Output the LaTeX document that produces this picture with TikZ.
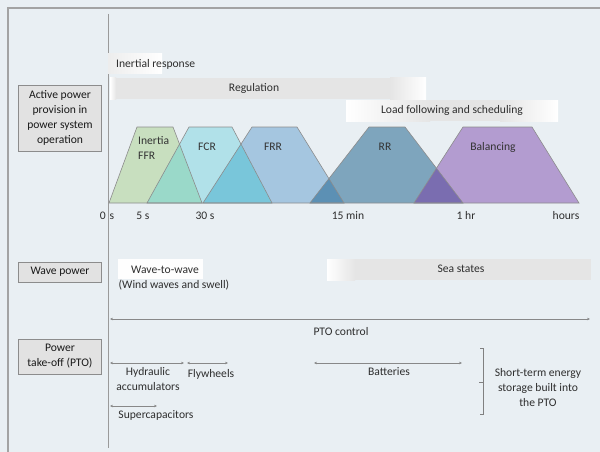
\documentclass[tikz,border=0pt]{standalone}
\usepackage{fontspec}
\setmainfont{Carlito}
\usetikzlibrary{arrows.meta}
\definecolor{bg}{HTML}{E9EFF3}
\definecolor{frame}{HTML}{A3A3A3}
\definecolor{axis}{HTML}{9A9A9A}
\definecolor{cffr}{HTML}{C8DFBF}
\definecolor{cfcr}{HTML}{B1E1E9}
\definecolor{cfrr}{HTML}{A5C6E0}
\definecolor{crr}{HTML}{7EA5BD}
\definecolor{cbal}{HTML}{B39CD0}
\definecolor{ovA}{HTML}{9AD9C9}
\definecolor{ovB}{HTML}{79C6DA}
\definecolor{ovC}{HTML}{5C90B4}
\definecolor{ovD}{HTML}{7A6DB0}
\definecolor{barg}{HTML}{E5E5E5}
\definecolor{boxfill}{HTML}{E2E2E2}
\definecolor{boxdraw}{HTML}{8C8C8C}
\definecolor{txt}{HTML}{2E2E2E}
\definecolor{arr}{HTML}{888888}
\tikzset{
  lbl/.style={inner sep=0pt, text=txt, font=\fontsize{11.6}{15}\selectfont, align=center},
  catbox/.style={draw=boxdraw, fill=boxfill, line width=0.9pt, inner sep=0pt, text=black!90, font=\fontsize{11.6}{15}\selectfont, align=center},
  trapline/.style={draw=black!45, line width=0.6pt},
  span/.style={draw=arr, line width=0.7pt, {Stealth[length=3pt,width=2.6pt]}-{Stealth[length=3pt,width=2.6pt]}},
}
\begin{document}
\begin{tikzpicture}[x=1pt,y=-1pt]
\useasboundingbox (0,0) rectangle (600,452);
\fill[bg] (0,0) rectangle (600,452);
% frame
\draw[frame, line width=1.1pt] (8,452) -- (8,8) -- (600,8);
% axis
\draw[axis, line width=1pt] (108,14) -- (108,448);

% bars
\fill[white!96!barg] (108,54) rectangle (162,74);
\shade[left color=barg!70!white, right color=white] (108,54) rectangle (162,74);
\node[lbl, anchor=west] (inr) at (116,64) {Inertial response};

\fill[barg] (110,78) rectangle (426,99);
\shade[left color=white, right color=barg] (110,78) rectangle (116,99);
\shade[left color=barg, right color=white] (390,78) rectangle (426,99);
\node[lbl] (reg) at (254,88) {Regulation};

\fill[barg] (346,100) rectangle (558,121);
\shade[left color=white, right color=barg] (346,100) rectangle (430,121);
\shade[left color=barg, right color=white] (500,100) rectangle (558,121);
\node[lbl] (lfs) at (452,110) {Load following and scheduling};

% trapezoid corners
\coordinate (a1) at (109,203); \coordinate (a2) at (137,127); \coordinate (a3) at (173,127); \coordinate (a4) at (202,203);
\coordinate (b1) at (147,203); \coordinate (b2) at (189,127); \coordinate (b3) at (232,127); \coordinate (b4) at (272,203);
\coordinate (c1) at (203,203); \coordinate (c2) at (252,127); \coordinate (c3) at (297,127); \coordinate (c4) at (344,203);
\coordinate (d1) at (310,203); \coordinate (d2) at (369,127); \coordinate (d3) at (405,127); \coordinate (d4) at (463,203);
\coordinate (e1) at (414,203); \coordinate (e2) at (463,127); \coordinate (e3) at (532,127); \coordinate (e4) at (579,203);

\fill[cffr] (a1)--(a2)--(a3)--(a4)--cycle;
\fill[cfcr] (b1)--(b2)--(b3)--(b4)--cycle;
\fill[cfrr] (c1)--(c2)--(c3)--(c4)--cycle;
\fill[crr] (d1)--(d2)--(d3)--(d4)--cycle;
\fill[cbal] (e1)--(e2)--(e3)--(e4)--cycle;
\begin{scope}\clip (a1)--(a2)--(a3)--(a4)--cycle; \fill[ovA] (b1)--(b2)--(b3)--(b4)--cycle;\end{scope}
\begin{scope}\clip (b1)--(b2)--(b3)--(b4)--cycle; \fill[ovB] (c1)--(c2)--(c3)--(c4)--cycle;\end{scope}
\begin{scope}\clip (c1)--(c2)--(c3)--(c4)--cycle; \fill[ovC] (d1)--(d2)--(d3)--(d4)--cycle;\end{scope}
\begin{scope}\clip (d1)--(d2)--(d3)--(d4)--cycle; \fill[ovD] (e1)--(e2)--(e3)--(e4)--cycle;\end{scope}
\draw[trapline] (a1)--(a2)--(a3)--(a4)--cycle;
\draw[trapline] (b1)--(b2)--(b3)--(b4)--cycle;
\draw[trapline] (c1)--(c2)--(c3)--(c4)--cycle;
\draw[trapline] (d1)--(d2)--(d3)--(d4)--cycle;
\draw[trapline] (e1)--(e2)--(e3)--(e4)--cycle;

\node[lbl, anchor=west, align=left, text=black!80] (ffr) at (138,148) {Inertia\\FFR};
\node[lbl, text=black!80] (fcr) at (207,147) {FCR};
\node[lbl, text=black!80] (frr) at (273,147) {FRR};
\node[lbl, text=black!80] (rr) at (385,147) {RR};
\node[lbl, text=black!80] (bal) at (493,147) {Balancing};

% ticks
\node[lbl] (t0) at (107,216) {0\,\,s};
\node[lbl] (t5) at (143,216) {5 s};
\node[lbl] (t30) at (205,216) {30 s};
\node[lbl] (t15) at (348,216) {15 min};
\node[lbl] (t1h) at (466,215) {1 hr};
\node[lbl] (th) at (566,216) {hours};

% left category boxes
\node[catbox, minimum width=83pt, minimum height=66pt] (cap) at (60,118) {Active power\\provision in\\power system\\operation};
\node[catbox, minimum width=83pt, minimum height=20pt] (cwp) at (60,272) {Wave power};
\node[catbox, minimum width=83pt, minimum height=35pt] (cpto) at (60,356.5) {Power\\take-off (PTO)};

% wave power
\fill[white!97!barg] (118,259) rectangle (203,279);
\node[lbl] (w2w) at (165,270) {Wave-to-wave};
\node[lbl] (wws) at (174,285) {(Wind waves and swell)};
\fill[barg] (327,259) rectangle (591,280);
\shade[left color=white, right color=barg] (327,259) rectangle (355,280);
\node[lbl] (sea) at (461,269) {Sea states};

% PTO
\coordinate (p1) at (110,319); \coordinate (p2) at (590,319);
\draw[span] (p1) -- (p2);
\node[lbl] (ptoc) at (341,332) {PTO control};

\coordinate (h1) at (110,363); \coordinate (h2) at (184,363);
\draw[span] (h1) -- (h2);
\node[lbl] (hyd) at (148,379) {Hydraulic\\accumulators};

\coordinate (f1) at (187,363); \coordinate (f2) at (228,363);
\draw[span] (f1) -- (f2);
\node[lbl] (fly) at (211,374) {Flywheels};

\coordinate (s1) at (110,406); \coordinate (s2) at (157,406);
\draw[span] (s1) -- (s2);
\node[lbl] (sup) at (156,415) {Supercapacitors};

\coordinate (bt1) at (314,363); \coordinate (bt2) at (462,363);
\draw[span] (bt1) -- (bt2);
\node[lbl] (bat) at (389,372) {Batteries};

\coordinate (k1) at (480,348); \coordinate (k2) at (483,348); \coordinate (k3) at (483,414); \coordinate (k4) at (480,414);
\coordinate (km) at (483,382); \coordinate (kt) at (479,382);
\draw[draw=black!50, line width=0.7pt] (k1) -- (k2) -- (k3) -- (k4);
\draw[draw=black!50, line width=0.7pt] (km) -- (kt);
\node[lbl] (ste) at (538,387.5) {Short-term energy\\storage built into\\the PTO};
\end{tikzpicture}
\end{document}
